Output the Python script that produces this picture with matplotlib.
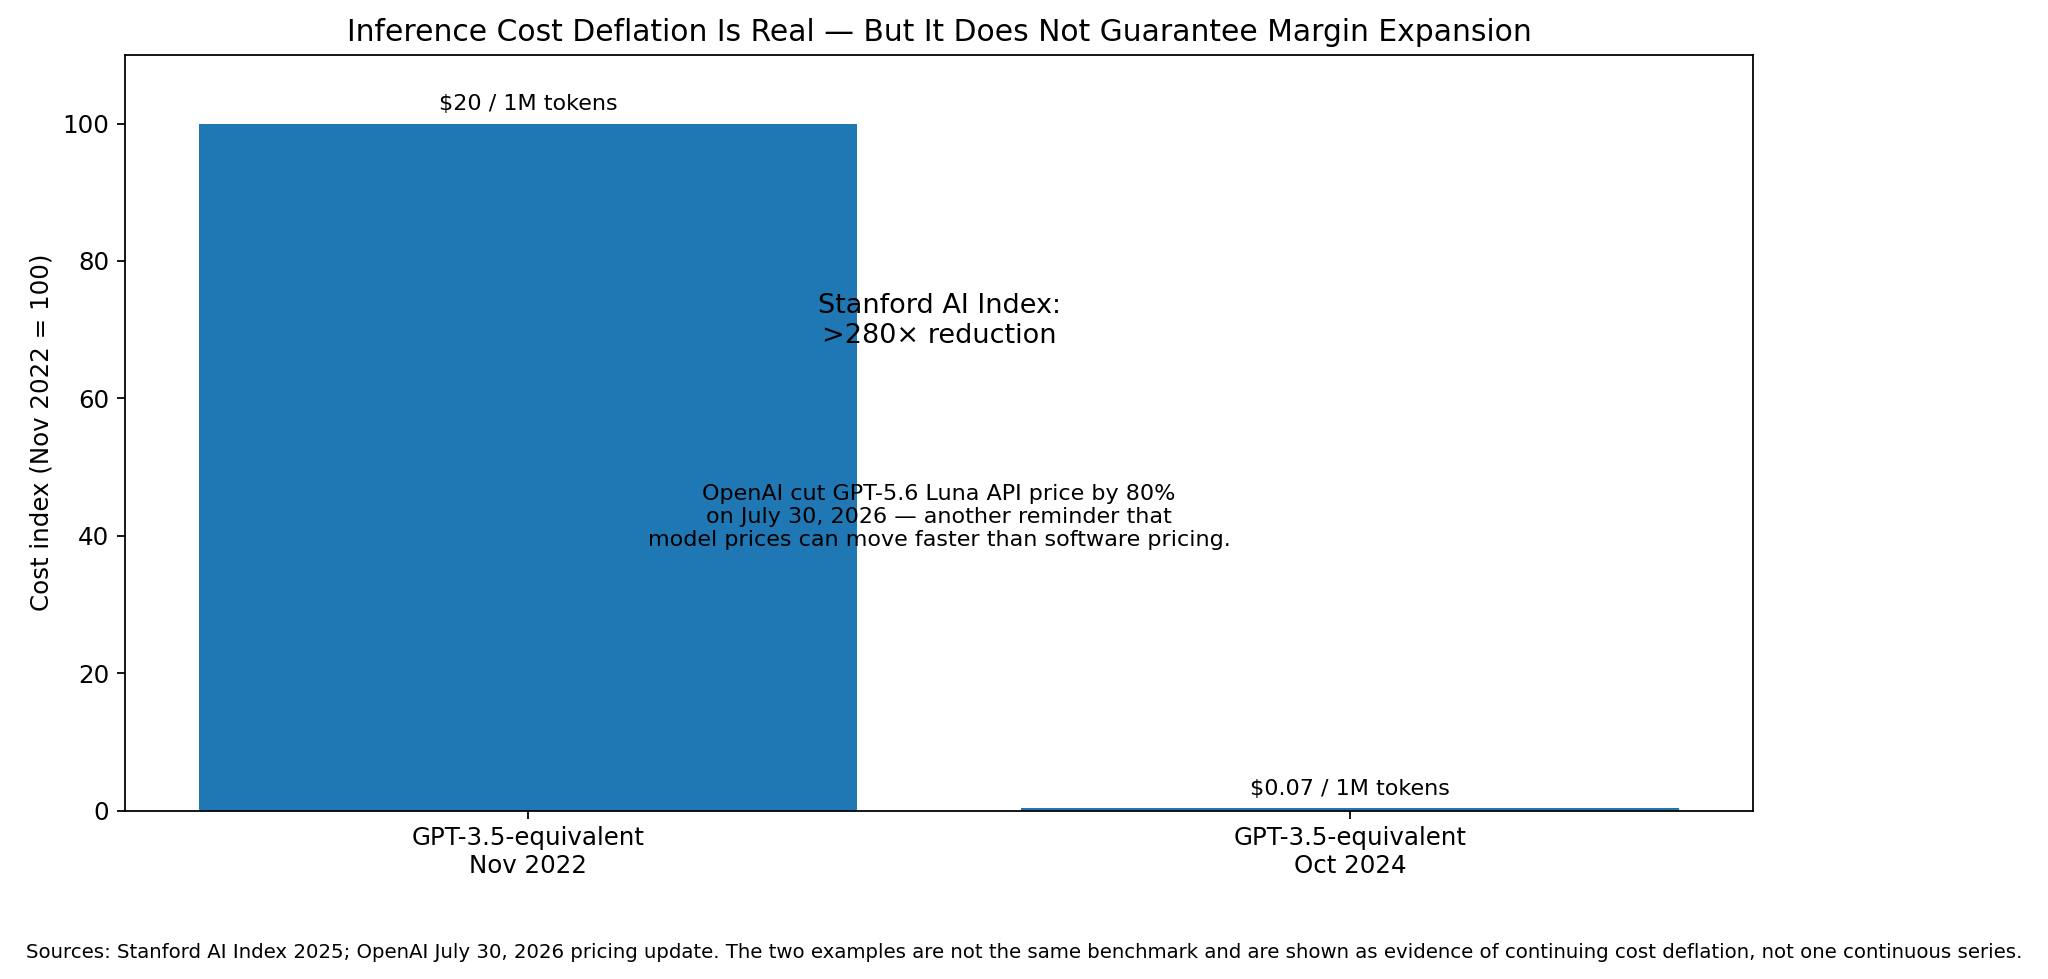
import numpy as np
import matplotlib
matplotlib.use("Agg")
import matplotlib.pyplot as plt

plt.rcParams["font.size"] = 11

# data
categories = ["GPT-3.5-equivalent\nNov 2022", "GPT-3.5-equivalent\nOct 2024"]
price_per_1m = [20.0, 0.07]
bar_labels = ["$20 / 1M tokens", "$0.07 / 1M tokens"]

cost_index = [p / price_per_1m[0] * 100 for p in price_per_1m]

fig = plt.figure(figsize=(2048 / 160, 979 / 160), dpi=160)
fig.subplots_adjust(left=0.061, right=0.856, top=0.944, bottom=0.172)
ax = fig.add_subplot(111)

x = np.arange(len(categories))
bars = ax.bar(x, cost_index, width=0.8, color="#1f77b4")
ax.set_xticks(x)
ax.set_xticklabels(categories, fontsize=11)
ax.set_ylim(0, 110)
ax.set_ylabel("Cost index (Nov 2022 = 100)")
ax.set_title("Inference Cost Deflation Is Real \u2014 But It Does Not Guarantee Margin Expansion", fontsize=13.4)

for b, lab in zip(bars, bar_labels):
    ax.text(b.get_x() + b.get_width() / 2, b.get_height() + 1.4, lab,
            ha="center", va="bottom", fontsize=10)

ax.text(0.5, 71.3, "Stanford AI Index:\n>280\u00d7 reduction", ha="center", va="center", fontsize=12.2)
ax.text(0.5, 42.7, "OpenAI cut GPT-5.6 Luna API price by 80%\non July 30, 2026 \u2014 another reminder that\n"
        "model prices can move faster than software pricing.", ha="center", va="center", fontsize=10)

fig.text(0.5, 0.027, "Sources: Stanford AI Index 2025; OpenAI July 30, 2026 pricing update. The two examples are not "
         "the same benchmark and are shown as evidence of continuing cost deflation, not one continuous series.",
         ha="center", va="center", fontsize=8.9)

fig.savefig("out.png", dpi=160)
